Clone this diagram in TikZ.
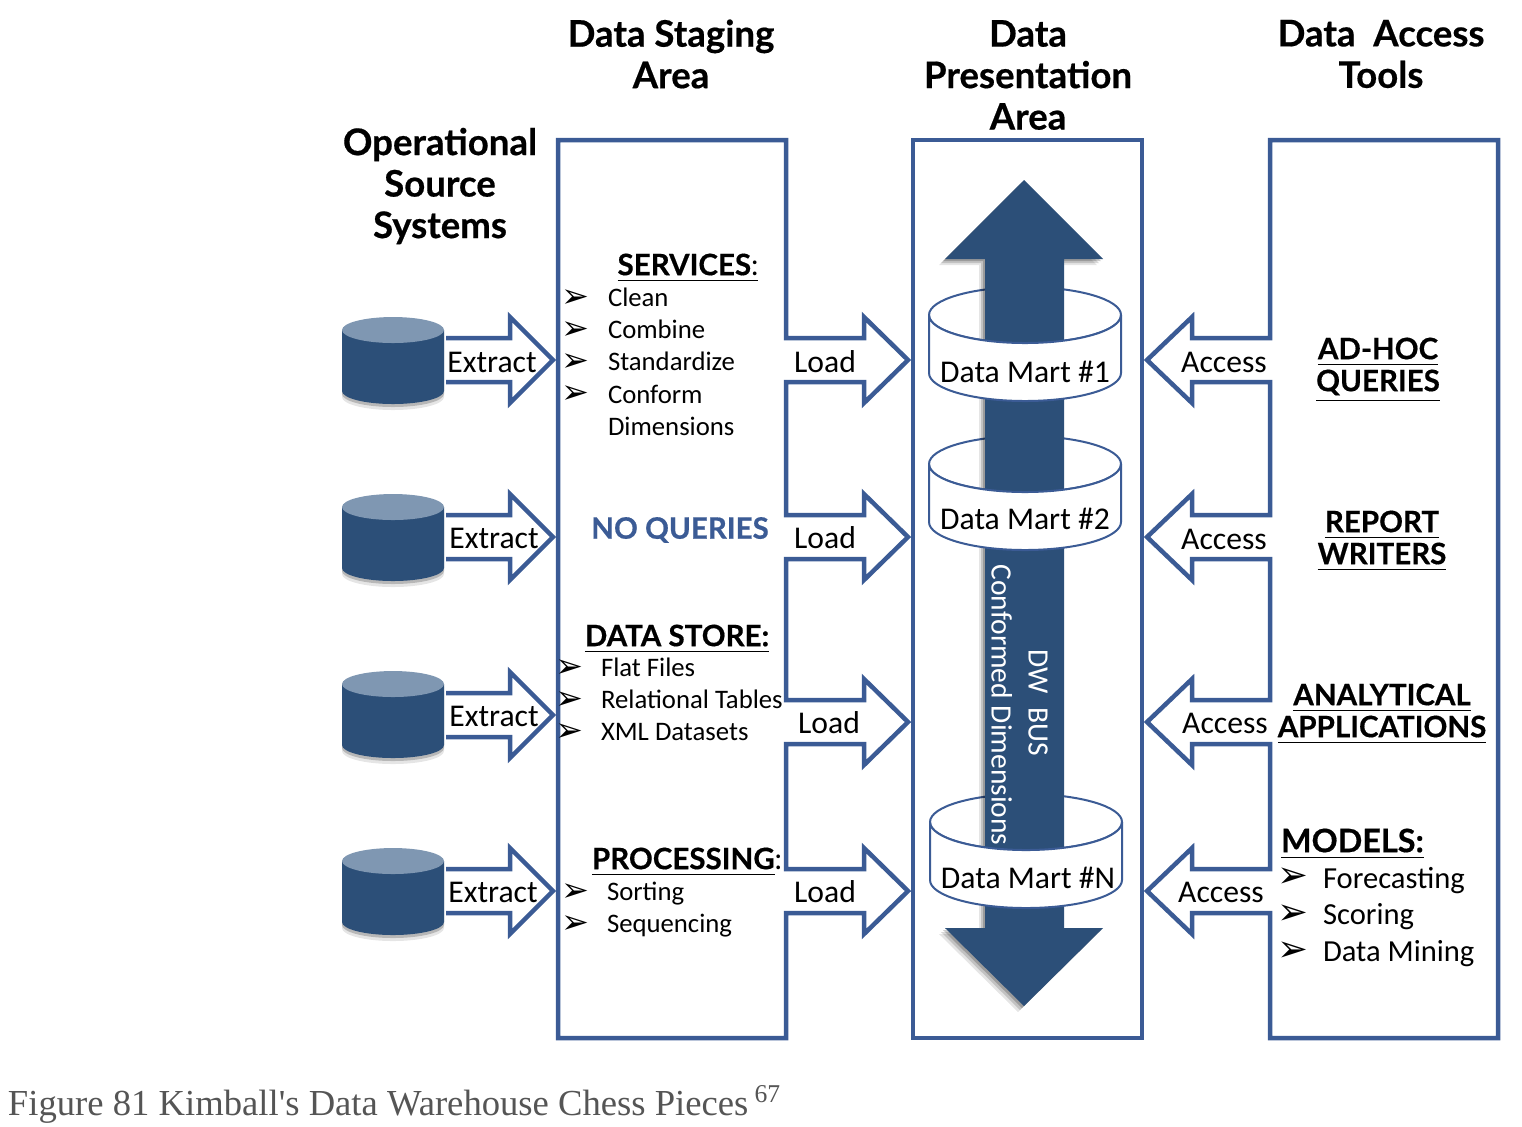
\documentclass[tikz,border=0pt]{standalone}
\usepackage{fontspec}
\setmainfont{Carlito}
\newfontfamily\headfont[BoldFeatures={FakeBold=.5}]{Lato}
\newfontfamily\symfont{DejaVu Sans}
\newfontfamily\capfont{Liberation Serif}
\usetikzlibrary{shadows}
\definecolor{frameblue}{HTML}{3B5B95}
\definecolor{busblue}{HTML}{2C4F78}
\definecolor{topblue}{HTML}{7F97B2}
\definecolor{capgray}{HTML}{555555}
\begin{document}
\begin{tikzpicture}[
	x=.01cm, y=-.01cm,
	every node/.style={inner sep=0pt, outer sep=0pt},
	frameline/.style={draw=frameblue, line width=.045cm, fill=white, line join=miter},
	martline/.style={draw=frameblue, line width=.02cm},
	softshadow/.style={
		drop shadow={shadow xshift=-.06cm, shadow yshift=-.06cm, opacity=.1, fill=black},
		drop shadow={shadow xshift=-.04cm, shadow yshift=-.04cm, opacity=.15, fill=black},
		drop shadow={shadow xshift=-.02cm, shadow yshift=-.02cm, opacity=.2, fill=black},
	},
	lowshadow/.style={
		drop shadow={shadow xshift=0cm, shadow yshift=-.06cm, opacity=.1, fill=black},
		drop shadow={shadow xshift=0cm, shadow yshift=-.03cm, opacity=.2, fill=black},
	},
	header/.style={align=center, font=\fontsize{10.4}{11.8}\selectfont\headfont\bfseries},
	label/.style={font=\fontsize{9}{10}\selectfont, text height=1.5ex, text depth=.25ex},
	item/.style={label, anchor=west, font=\fontsize{7.6}{10}\selectfont},
	bigitem/.style={item, font=\fontsize{8.7}{10}\selectfont},
	tick/.style={anchor=center, font=\fontsize{9.5}{10}\selectfont\symfont},
	heading/.style={align=center, font=\fontsize{8.4}{9.1}\selectfont\headfont\bfseries},
]
	\useasboundingbox (0,0) rectangle (1522,1126);

	% headers
	\node [header] (staginghead) at (671,54) {Data Staging\\Area};
	\node [header] (presenthead) at (1028,75) {Data\\Presentation\\Area};
	\node [header] (accesshead) at (1381,54) {Data\ \ Access\\Tools};
	\node [header] (sourcehead) at (440,186) {Operational\\Source\\Systems};

	% source systems
	\foreach \y/\e [count=\n] in {330/360,507/537,684/715,861/891} {
		\draw [frameline] (446,\e-22) -- (510,\e-22) -- (510,\e-43) -- (553,\e) -- (510,\e+43) -- (510,\e+22) -- (446,\e+22);
		\fill [busblue, lowshadow] (342,\y) -- (342,\y+61) arc [start angle=180, end angle=0, x radius=51, y radius=13] -- (444,\y) -- cycle;
		\fill [topblue] (393,\y) ellipse [x radius=51, y radius=13];
	}
	\node [label] (extract1) at (492,362) {Extract};
	\node [label] (extract2) at (494,538) {Extract};
	\node [label] (extract3) at (494,716) {Extract};
	\node [label] (extract4) at (493,892) {Extract};

	% staging area
	\draw [frameline] (558,140) -- (786,140)
		\foreach \y in {360,537,722,891} {
			-- (786,\y-22) -- (864,\y-22) -- (864,\y-43) -- (908,\y) -- (864,\y+43) -- (864,\y+22) -- (786,\y+22)
		} -- (786,1038) -- (558,1038) -- cycle;
	\node [label] (load1) at (825,362) {Load};
	\node [label] (load2) at (825,538) {Load};
	\node [label] (load3) at (829,723) {Load};
	\node [label] (load4) at (825,892) {Load};

	\node [heading] (services) at (688,268) {\underline{SERVICES}{\mdseries\underline{:}}};
	\node [item] (clean) at (608,296) {Clean};
	\node [item] (combine) at (608,328) {Combine};
	\node [item] (standard) at (608,360) {Standardize};
	\node [item] (conform) at (608,393) {Conform};
	\node [item] (dimensions) at (608,425) {Dimensions};
	\foreach \y in {297,329,361,393}
		\node [tick] at (575,\y+2) {➢};

	\node [heading, text=frameblue] (noqueries) at (680,530) {NO QUERIES};

	\node [heading] (datastore) at (677,639) {\underline{DATA STORE:}};
	\node [item] (flat) at (601,666) {Flat Files};
	\node [item] (relational) at (601,698) {Relational Tables};
	\node [item] (xml) at (601,730) {XML Datasets};
	\foreach \y in {667,699,731}
		\node [tick] at (569,\y+2) {➢};

	\node [heading] (processing) at (687,862) {\underline{PROCESSING}{\mdseries:}};
	\node [item] (sorting) at (607,890) {Sorting};
	\node [item] (sequencing) at (607,922) {Sequencing};
	\foreach \y in {891,923}
		\node [tick] at (575,\y+2) {➢};

	% presentation area
	\draw [frameline] (913,140) rectangle (1142,1038);
	\foreach \c/\d in {315/0,464/0,822/1}
		\draw [martline, fill=white] (1025+\d,\c) ellipse [x radius=96, y radius=28];
	\fill [busblue, softshadow] (1024,180) -- (1103,259) -- (1064,259) -- (1064,928) -- (1103,928) -- (1024,1006) -- (945,928) -- (985,928) -- (985,259) -- (945,259) -- cycle;
	\foreach \c/\d in {315/0,464/0,822/1}
		\draw [martline, fill=white] (929+\d,\c) arc [start angle=180, end angle=0, x radius=96, y radius=28] -- (1121+\d,\c+58) arc [start angle=0, end angle=180, x radius=96, y radius=28] -- cycle;
	\node [label] (mart1) at (1025,372) {Data Mart \#1};
	\node [label] (mart2) at (1025,519) {Data Mart \#2};
	\node [label] (martn) at (1028,878) {Data Mart \#N};
	\node [label, text=white, rotate=-90, font=\fontsize{8.4}{10}\selectfont] (dwbus) at (1039,703) {DW\ \ BUS};
	\node [label, text=white, rotate=-90, font=\fontsize{8.4}{10}\selectfont] (conformed) at (1002,705) {Conformed Dimensions};

	% access tools
	\draw [frameline] (1498,140) -- (1270,140)
		\foreach \y in {360,537,722,891} {
			-- (1270,\y-22) -- (1192,\y-22) -- (1192,\y-43) -- (1147,\y) -- (1192,\y+43) -- (1192,\y+22) -- (1270,\y+22)
		} -- (1270,1038) -- (1498,1038) -- cycle;
	\node [label] (access1) at (1224,362) {Access};
	\node [label] (access2) at (1224,539) {Access};
	\node [label] (access3) at (1225,723) {Access};
	\node [label] (access4) at (1221,892) {Access};

	\node [heading] (adhoc) at (1378,370) {\underline{AD-HOC}\\\underline{QUERIES}};
	\node [heading] (report) at (1382,541) {\underline{REPORT}\\\underline{WRITERS}};
	\node [heading] (analytical) at (1382,714) {\underline{ANALYTICAL}\\\underline{APPLICATIONS}};
	\node [heading, anchor=west, font=\fontsize{9.2}{10}\selectfont\headfont\bfseries] (models) at (1281,844) {\underline{MODELS:}};
	\node [bigitem] (forecast) at (1323,878) {Forecasting};
	\node [bigitem] (scoring) at (1323,914) {Scoring};
	\node [bigitem] (mining) at (1323,951) {Data Mining};
	\foreach \y in {876,913,950}
		\node [tick, font=\fontsize{10.5}{10}\selectfont\symfont] at (1293,\y+2) {➢};

	% caption
	\node [anchor=base west, text=capgray, font=\fontsize{10.42}{12}\selectfont\capfont] (caption) at (8,1115) {Figure 81 Kimball's Data Warehouse Chess Pieces\,\textsuperscript{67}};
\end{tikzpicture}
\end{document}
